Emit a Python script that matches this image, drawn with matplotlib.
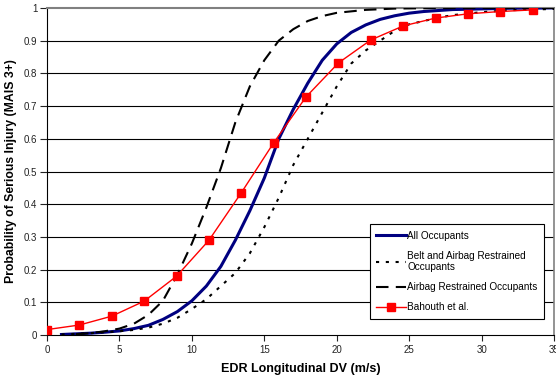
import matplotlib
matplotlib.use("Agg")
from matplotlib import pyplot as plt
from matplotlib.ticker import FuncFormatter

plt.rcParams["font.family"] = ["Liberation Sans", "DejaVu Sans"]

# All occupants (solid navy)
all_x = [1, 2, 3, 4, 5, 6, 7, 8, 9, 10, 11, 12, 13, 14, 15, 16, 17, 18, 19, 20,
         21, 22, 23, 24, 25, 26, 27, 28, 30, 32, 34, 35]
all_y = [0.002, 0.004, 0.006, 0.009, 0.013, 0.02, 0.03, 0.048, 0.072, 0.105, 0.15,
         0.21, 0.29, 0.38, 0.48, 0.6, 0.69, 0.77, 0.84, 0.89, 0.925, 0.948, 0.965,
         0.976, 0.984, 0.989, 0.992, 0.995, 0.997, 0.999, 0.9995, 1.0]

# Belt and airbag restrained (dotted)
belt_x = [1, 2, 3, 4, 5, 6, 7, 8, 9, 10, 11, 12, 13, 14, 15, 16, 17, 18, 19, 20,
          21, 22, 23, 24, 25, 26, 27, 28, 30, 32, 35]
belt_y = [0.002, 0.004, 0.006, 0.009, 0.012, 0.016, 0.023, 0.035, 0.053, 0.08, 0.11,
          0.15, 0.19, 0.25, 0.33, 0.42, 0.52, 0.6, 0.68, 0.76, 0.83, 0.87, 0.9, 0.93,
          0.95, 0.96, 0.97, 0.978, 0.987, 0.993, 0.997]

# Airbag restrained (dashed)
airbag_x = [2, 3, 4, 5, 6, 7, 8, 9, 10, 11, 12, 13, 14, 15, 16, 17, 18, 19, 20,
            22, 24, 26, 30, 35]
airbag_y = [0.003, 0.006, 0.012, 0.02, 0.035, 0.062, 0.105, 0.185, 0.28, 0.39, 0.51,
            0.65, 0.76, 0.84, 0.9, 0.935, 0.96, 0.975, 0.985, 0.994, 0.998, 0.999,
            1.0, 1.0]

# Bahouth et al. (red squares)
bahouth_x = [0, 2.24, 4.47, 6.71, 8.94, 11.18, 13.41, 15.65, 17.88, 20.12, 22.35,
             24.59, 26.82, 29.06, 31.29, 33.53]
bahouth_y = [0.017, 0.031, 0.058, 0.104, 0.18, 0.29, 0.435, 0.588, 0.728, 0.832,
             0.902, 0.945, 0.969, 0.982, 0.989, 0.994]

x_ticks = [0, 5, 10, 15, 20, 25, 30, 35]
y_ticks = [0, 0.1, 0.2, 0.3, 0.4, 0.5, 0.6, 0.7, 0.8, 0.9, 1.0]

fig = plt.figure(figsize=(5.56, 3.77), dpi=100)
ax = fig.add_axes([0.0845, 0.111, 0.912, 0.868])

for y in y_ticks[1:-1]:
    ax.axhline(y, color="black", lw=0.8, zorder=1)

ax.plot(all_x, all_y, color="#000080", lw=2.2, label="All Occupants", zorder=3)
ax.plot(belt_x, belt_y, color="black", lw=1.5, dashes=(1.5, 3.2),
        label="Belt and Airbag Restrained\nOccupants", zorder=3)
ax.plot(airbag_x, airbag_y, color="black", lw=1.5, dashes=(6, 3.5),
        label="Airbag Restrained Occupants", zorder=3)
ax.plot(bahouth_x, bahouth_y, color="#ff0000", lw=1, marker="s", markersize=5.5,
        label="Bahouth et al.", zorder=4)

ax.set_xlim(0, 35)
ax.set_ylim(0, 1)
ax.set_xticks(x_ticks)
ax.set_yticks(y_ticks)
ax.yaxis.set_major_formatter(FuncFormatter(lambda v, _: f"{v:g}"))
ax.tick_params(axis="both", labelsize=7, colors="#222222", length=5, width=0.8)
ax.tick_params(axis="x", length=4, pad=3)
ax.tick_params(axis="y", pad=2)

ax.spines["top"].set_color("#808080")
ax.spines["right"].set_color("#808080")
ax.spines["top"].set_linewidth(1.5)
ax.spines["right"].set_linewidth(1.2)

ax.set_xlabel("EDR Longitudinal DV (m/s)", fontsize=9, fontweight="bold", labelpad=6)
ax.set_ylabel("Probability of Serious Injury (MAIS 3+)", fontsize=8.8, fontweight="bold",
              labelpad=5)

leg = ax.legend(loc="upper left", bbox_to_anchor=(0.637, 0.339), fontsize=7.2,
                frameon=True, fancybox=False, edgecolor="black", framealpha=1,
                handlelength=3.0, handletextpad=0.1, borderpad=0.65, labelspacing=1.0,
                borderaxespad=0)
leg.get_frame().set_linewidth(0.8)

fig.savefig("out.png", dpi=100)
